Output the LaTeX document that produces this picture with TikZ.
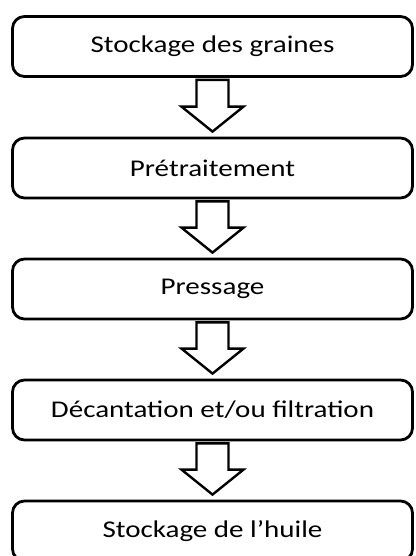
\documentclass[tikz,border=0pt]{standalone}
\usepackage{fontspec}
\setmainfont{Carlito}[FakeStretch=1.21]

\tikzset{
  etape/.style={draw, line width=2.8pt, rounded corners=12pt,
    minimum width=400pt, minimum height=60pt,
    font=\fontsize{24}{28}\selectfont},
  fleche/.style={draw, line width=2.4pt, fill=white, line join=miter}
}

\begin{document}
\begin{tikzpicture}[x=1pt,y=-1pt]
\useasboundingbox (0,0) rectangle (415,556);
\clip (0,0) rectangle (415,556);
\node[etape] (s1) at (212.5,46.5) {Stockage des graines};
\node[etape] (s2) at (212.5,168) {Prétraitement};
\node[etape] (s3) at (212.5,289) {Pressage};
\node[etape] (s4) at (212.5,410) {Décantation et/ou filtration};
\node[etape] (s5) at (212.5,531) {Stockage de l’huile};

% fleches creuses entre les etapes
\foreach \a/\b in {s1/s2,s2/s3,s3/s4,s4/s5}
  \draw[fleche] ([xshift=-16pt,yshift=-2pt]\a.south) -- ([xshift=-16pt,yshift=30pt]\b.north)
    -- ([xshift=-31pt,yshift=30pt]\b.north) -- ([yshift=5pt]\b.north)
    -- ([xshift=31pt,yshift=30pt]\b.north) -- ([xshift=16pt,yshift=30pt]\b.north)
    -- ([xshift=16pt,yshift=-2pt]\a.south) -- cycle;
\end{tikzpicture}
\end{document}
